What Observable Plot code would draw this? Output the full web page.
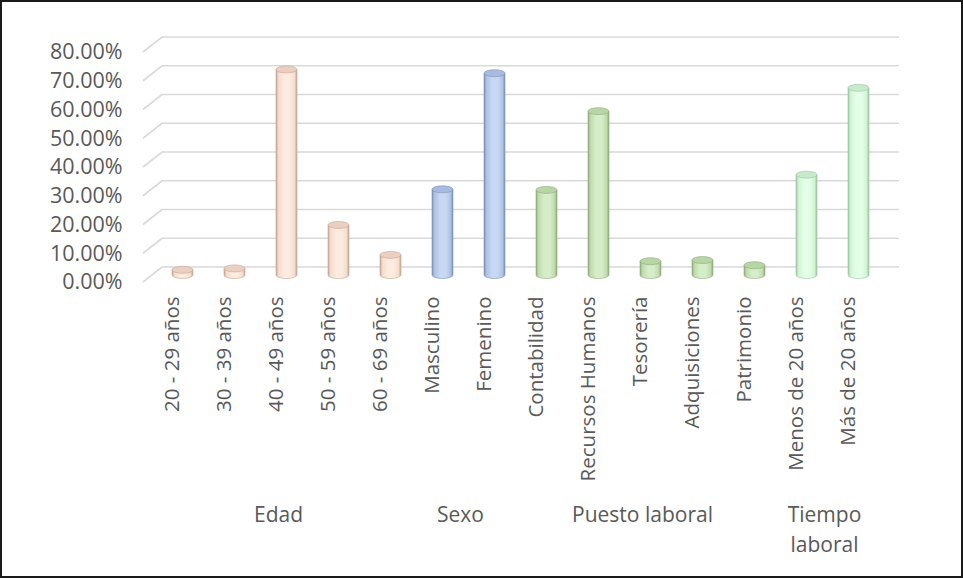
<!DOCTYPE html>
<html>
<head>
<meta charset="utf-8">
<script src="https://cdn.jsdelivr.net/npm/d3@7"></script>
<script src="https://cdn.jsdelivr.net/npm/@observablehq/plot@0.6"></script>
<style>
  html, body { margin: 0; padding: 0; background: #fff; }
  #chart svg { display: block; outline: 2px solid #1a1a1a; outline-offset: -2px; }
</style>
</head>
<body>
<div id="chart"></div>
<script>
// Porcentajes por característica del personal
const edadCategorias = ["20 - 29 años", "30 - 39 años", "40 - 49 años", "50 - 59 años", "60 - 69 años"];
const edadValores = [1.8, 2.3, 71.5, 17.4, 7.0];

const sexoCategorias = ["Masculino", "Femenino"];
const sexoValores = [29.8, 70.2];

const puestoCategorias = ["Contabilidad", "Recursos Humanos", "Tesorería", "Adquisiciones", "Patrimonio"];
const puestoValores = [29.6, 57.0, 4.8, 5.2, 3.4];

const tiempoCategorias = ["Menos de 20 años", "Más de 20 años"];
const tiempoValores = [34.9, 65.1];

const grupos = ["Edad", "Sexo", "Puesto laboral", "Tiempo laboral"];
const yTicks = [0, 10, 20, 30, 40, 50, 60, 70, 80];

// Tabla larga construida a partir de las listas anteriores
const bloques = [
  [grupos[0], edadCategorias, edadValores],
  [grupos[1], sexoCategorias, sexoValores],
  [grupos[2], puestoCategorias, puestoValores],
  [grupos[3], tiempoCategorias, tiempoValores]
];
const datos = bloques.flatMap(([grupo, cats, vals]) =>
  cats.map((categoria, i) => ({grupo, categoria, valor: vals[i]})));

// Tonos de cada grupo: borde oscuro, medio, claro y tapa
const paleta = {
  "Edad":           {borde: "#c4a696", medio: "#f5dccd", claro: "#fdebe0", tapa: "#ebd0c1"},
  "Sexo":           {borde: "#7d92b4", medio: "#adc2e5", claro: "#c7d8f2", tapa: "#a6bbdf"},
  "Puesto laboral": {borde: "#8fab7e", medio: "#c0dbad", claro: "#d6edc9", tapa: "#b8d5a6"},
  "Tiempo laboral": {borde: "#9fc4a3", medio: "#cff4d4", claro: "#e4ffe8", tapa: "#c6eacb"}
};

const W = 963, H = 578;
const profundidad = 8;   // desplazamiento vertical de las columnas frente a la pared
const font = "'Open Sans', sans-serif";
const gris = "#595959";
const tamGrupo = 21;

// Rejilla con el tramo inclinado del suelo en perspectiva
function rejilla(index, {x, y}) {
  const [x0, x1] = x.range();
  const g = d3.create("svg:g").attr("fill", "none").attr("stroke", "#d9d9d9").attr("stroke-width", 1.6);
  for (const t of yTicks) {
    const yy = y(t);
    g.append("path").attr("d", `M${x0 - 9},${yy + 15}L${x0 + 10},${yy}L${x1 + 10},${yy}`);
  }
  return g.node();
}

// Columnas cilíndricas con degradado lateral y tapa elíptica
function cilindros(index, {x, y}) {
  const g = d3.create("svg:g");
  const defs = g.append("defs");
  grupos.forEach((grupo, k) => {
    const c = paleta[grupo];
    const lg = defs.append("linearGradient").attr("id", `cil-${k}`)
      .attr("x1", "0").attr("x2", "1").attr("y1", "0").attr("y2", "0");
    [[0, c.borde], [0.12, c.medio], [0.38, c.claro], [0.66, c.claro], [0.88, c.medio], [1, c.borde]]
      .forEach(([o, col]) => lg.append("stop").attr("offset", o).attr("stop-color", col));
  });
  const bw = x.bandwidth();
  const rx = bw / 2, ry = 3.5;
  for (const d of datos) {
    const k = grupos.indexOf(d.grupo);
    const c = paleta[d.grupo];
    const xl = x(d.categoria);
    const yt = y(d.valor) + profundidad;
    const yb = y(0) + profundidad;
    g.append("path")
      .attr("d", `M${xl},${yt}L${xl},${yb}A${rx},${ry} 0 0 0 ${xl + bw},${yb}L${xl + bw},${yt}Z`)
      .attr("fill", `url(#cil-${k})`)
      .attr("stroke", c.borde).attr("stroke-width", 0.6);
    g.append("ellipse")
      .attr("cx", xl + rx).attr("cy", yt).attr("rx", rx).attr("ry", ry)
      .attr("fill", c.tapa).attr("stroke", c.borde).attr("stroke-width", 0.6);
  }
  return g.node();
}

// Etiquetas de grupo centradas bajo sus categorías
function etiquetasGrupo(index, {x}, values, dimensions) {
  const bw = x.bandwidth();
  const base = dimensions.height - dimensions.marginBottom + 248;
  const g = d3.create("svg:g")
    .attr("font-family", font).attr("font-size", tamGrupo).attr("fill", gris)
    .attr("text-anchor", "middle");
  bloques.forEach(([grupo, cats]) => {
    const centro = (x(cats[0]) + x(cats[cats.length - 1]) + bw) / 2 - 8;
    const ancho = x(cats[cats.length - 1]) + bw - x(cats[0]) + bw * 1.5;
    const lineas = grupo.length * tamGrupo * 0.55 > ancho ? grupo.split(" ") : [grupo];
    lineas.forEach((linea, i) => {
      g.append("text").attr("x", centro).attr("y", base + i * 30)
        .attr("dy", "0.35em").text(linea);
    });
  });
  return g.node();
}

const chart = Plot.plot({
  width: W,
  height: H,
  marginLeft: 152,
  marginRight: 74,
  marginTop: 37,
  marginBottom: 311,
  style: {fontFamily: font, fontSize: "20px", color: gris, background: "#fff", overflow: "visible"},
  x: {type: "band", domain: datos.map(d => d.categoria), paddingInner: 0.6, paddingOuter: 0.3},
  y: {domain: [0, 80]},
  marks: [
    rejilla,
    Plot.axisY({ticks: yTicks, tickSize: 0, tickPadding: 30, dy: 15, label: null,
      tickFormat: d => d.toFixed(2) + "%", fontSize: 21.5}),
    Plot.axisX({tickRotate: -90, tickSize: 0, tickPadding: 29, dx: -11, label: null, fontSize: 20.5}),
    cilindros,
    etiquetasGrupo
  ]
});

document.getElementById("chart").appendChild(chart);
</script>
</body>
</html>
